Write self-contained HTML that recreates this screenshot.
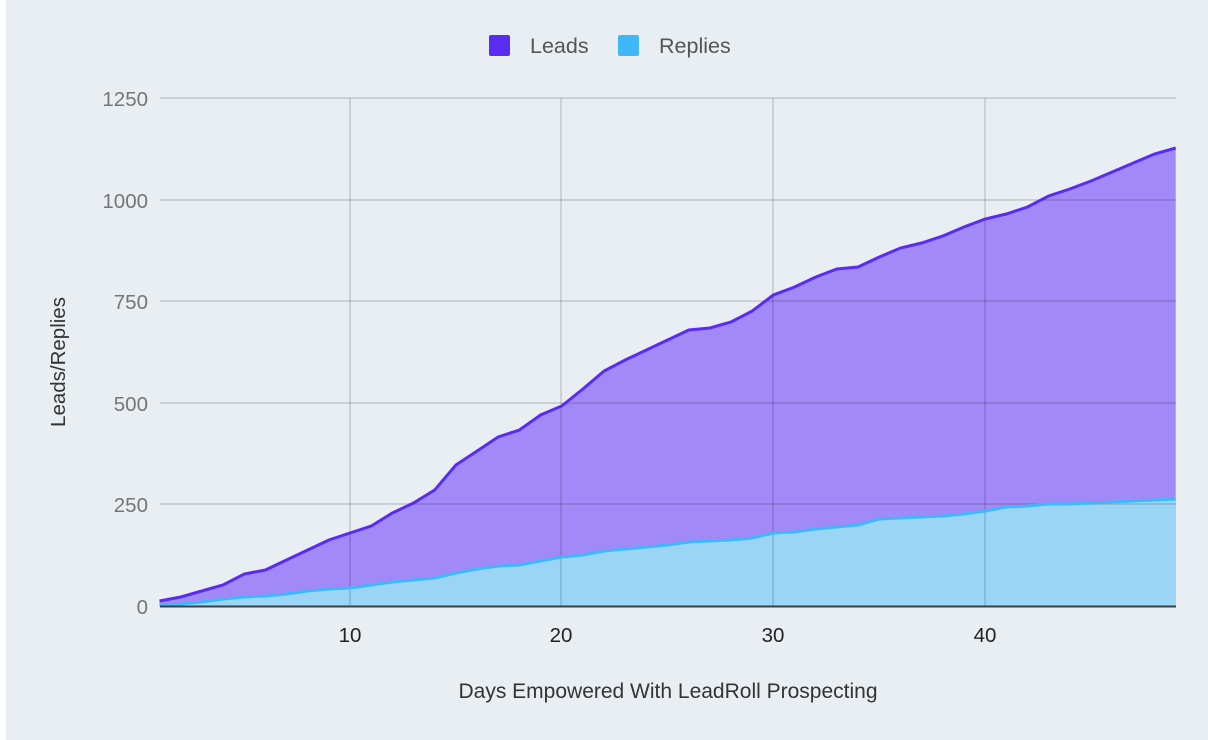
<!DOCTYPE html>
<html><head><style>
html,body{margin:0;padding:0;background:#fff;}
.wrap{position:absolute;left:6px;top:0;width:1202px;height:740px;background:#e9eef2;}
svg{position:absolute;left:0;top:0;}
text{font-family:"Liberation Sans",sans-serif;}
</style></head><body>
<div class="wrap"></div>
<svg width="1208" height="740" viewBox="0 0 1208 740">
<polygon fill="#a18af7" points="159.5,606 159.5,601 180.7,597 201.8,591 223.0,585 244.2,574 265.4,570 286.5,560 307.7,550 328.9,540 350.0,533 371.2,526 392.4,513 413.5,503 434.7,490 455.9,465 477.1,451 498.2,437 519.4,430 540.6,415 561.7,406 582.9,389 604.1,371 625.2,360 646.4,350 667.6,340 688.8,330 709.9,328 731.1,322 752.3,311 773.4,295 794.6,287 815.8,277 836.9,269 858.1,267 879.3,257 900.5,248 921.6,243 942.8,236 964.0,227 985.1,219 1006.3,214 1027.5,207 1048.6,196 1069.8,189 1091.0,181 1112.2,172 1133.3,163 1154.5,154 1175.7,148 1175.7,606"/>
<polygon fill="#9ad5f6" points="159.5,606 159.5,605 180.7,604 201.8,602 223.0,599 244.2,597 265.4,596 286.5,594 307.7,591 328.9,589 350.0,588 371.2,585 392.4,582 413.5,580 434.7,578 455.9,573 477.1,569 498.2,566 519.4,565 540.6,561 561.7,557 582.9,555 604.1,551 625.2,549 646.4,547 667.6,545 688.8,542 709.9,541 731.1,540 752.3,538 773.4,533 794.6,532 815.8,529 836.9,527 858.1,525 879.3,519 900.5,518 921.6,517 942.8,516 964.0,514 985.1,511 1006.3,507 1027.5,506 1048.6,504 1069.8,504 1091.0,503 1112.2,502 1133.3,501 1154.5,500 1175.7,499 1175.7,606"/>
<g stroke="#000" stroke-opacity="0.16" stroke-width="1.5">
<line x1="160" x2="1176" y1="98" y2="98"/><line x1="160" x2="1176" y1="200" y2="200"/><line x1="160" x2="1176" y1="301" y2="301"/><line x1="160" x2="1176" y1="403" y2="403"/><line x1="160" x2="1176" y1="504" y2="504"/>
<line x1="350" x2="350" y1="98" y2="606"/><line x1="561" x2="561" y1="98" y2="606"/><line x1="773" x2="773" y1="98" y2="606"/><line x1="985" x2="985" y1="98" y2="606"/>
</g>
<polyline fill="none" stroke="#3fb8f9" stroke-width="3" points="159.5,605 180.7,604 201.8,602 223.0,599 244.2,597 265.4,596 286.5,594 307.7,591 328.9,589 350.0,588 371.2,585 392.4,582 413.5,580 434.7,578 455.9,573 477.1,569 498.2,566 519.4,565 540.6,561 561.7,557 582.9,555 604.1,551 625.2,549 646.4,547 667.6,545 688.8,542 709.9,541 731.1,540 752.3,538 773.4,533 794.6,532 815.8,529 836.9,527 858.1,525 879.3,519 900.5,518 921.6,517 942.8,516 964.0,514 985.1,511 1006.3,507 1027.5,506 1048.6,504 1069.8,504 1091.0,503 1112.2,502 1133.3,501 1154.5,500 1175.7,499"/>
<polyline fill="none" stroke="#5a2cf2" stroke-width="3" points="159.5,601 180.7,597 201.8,591 223.0,585 244.2,574 265.4,570 286.5,560 307.7,550 328.9,540 350.0,533 371.2,526 392.4,513 413.5,503 434.7,490 455.9,465 477.1,451 498.2,437 519.4,430 540.6,415 561.7,406 582.9,389 604.1,371 625.2,360 646.4,350 667.6,340 688.8,330 709.9,328 731.1,322 752.3,311 773.4,295 794.6,287 815.8,277 836.9,269 858.1,267 879.3,257 900.5,248 921.6,243 942.8,236 964.0,227 985.1,219 1006.3,214 1027.5,207 1048.6,196 1069.8,189 1091.0,181 1112.2,172 1133.3,163 1154.5,154 1175.7,148"/>
<line x1="160" x2="1176" y1="606.5" y2="606.5" stroke="#3c4043" stroke-width="2"/>
<g font-size="20.5" fill="#757575" text-anchor="end">
<text x="148" y="106">1250</text><text x="148" y="208">1000</text><text x="148" y="309">750</text><text x="148" y="411">500</text><text x="148" y="512">250</text><text x="148" y="614">0</text>
</g>
<g font-size="20.5" fill="#222" text-anchor="middle">
<text x="350" y="642">10</text><text x="561" y="642">20</text><text x="773" y="642">30</text><text x="985" y="642">40</text>
</g>
<text x="668" y="698" text-anchor="middle" font-size="21" fill="#333">Days Empowered With LeadRoll Prospecting</text>
<text transform="translate(65,362) rotate(-90)" text-anchor="middle" font-size="20.5" fill="#333">Leads/Replies</text>
<rect x="489" y="35" width="21" height="21" rx="2" fill="#5a2cf2"/><text x="530" y="53" font-size="21.5" fill="#555">Leads</text>
<rect x="618" y="35" width="21" height="21" rx="2" fill="#3fb8f9"/><text x="659" y="53" font-size="21.5" fill="#555">Replies</text>
</svg>
</body></html>
